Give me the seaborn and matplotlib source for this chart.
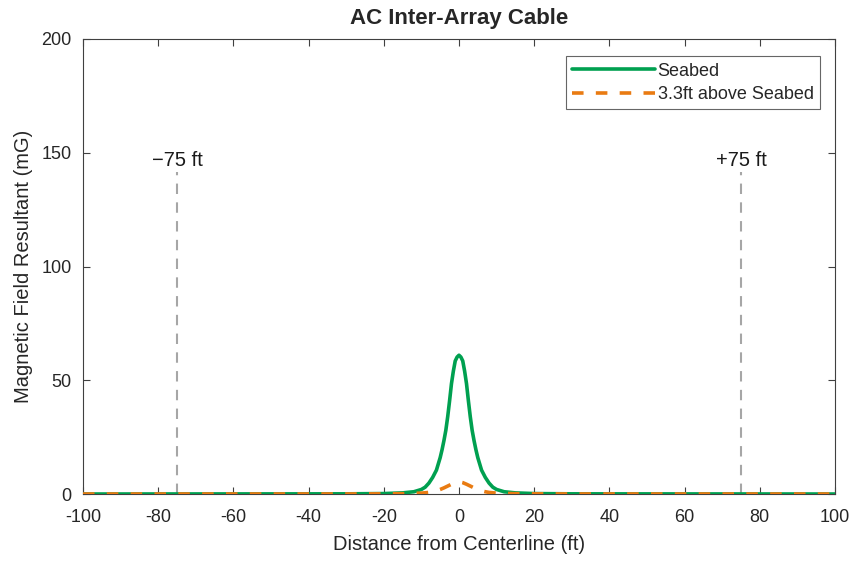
import pandas as pd
import matplotlib
matplotlib.use("Agg")
import matplotlib.pyplot as plt
import seaborn as sns

sns.set_style("white")
plt.rcParams['font.family'] = ['Liberation Sans', 'DejaVu Sans']
plt.rcParams['axes.unicode_minus'] = False

# distance from centerline (ft) and field values (mG)
distance = [-100, -30, -20, -15, -12, -10, -9, -8, -7, -6, -5, -4.5, -4, -3.5, -3, -2.5,
            -2, -1.5, -1, -0.5, 0, 0.5, 1, 1.5, 2, 2.5, 3, 3.5, 4, 4.5, 5, 6, 7, 8, 9,
            10, 12, 15, 20, 30, 100]
seabed = [0.0, 0.08, 0.2, 0.5, 1.0, 2.0, 3.0, 4.8, 7.3, 10.5, 16.0, 19.5, 23.5, 28.0, 34.0, 41.0,
          48.5, 54.0, 58.5, 60.2, 61.0, 60.2, 58.5, 54.0, 48.5, 41.0, 34.0, 28.0, 23.5, 19.5, 16.0,
          10.5, 7.3, 4.8, 3.0, 2.0, 1.0, 0.5, 0.2, 0.08, 0.0]
above_seabed = [0.0, 0.03, 0.08, 0.15, 0.3, 0.4, 0.55, 0.7, 1.0, 1.4, 2.0, 2.35, 2.7, 3.1, 3.5, 3.9,
                4.3, 4.65, 5.0, 5.2, 5.3, 5.2, 5.0, 4.65, 4.3, 3.9, 3.5, 3.1, 2.7, 2.35, 2.0,
                1.4, 1.0, 0.7, 0.55, 0.4, 0.3, 0.15, 0.08, 0.03, 0.0]
ref_lines = [-75, 75]
ref_labels = ["\u221275 ft", "+75 ft"]

df = pd.DataFrame({"x": distance, "Seabed": seabed, "3.3ft above Seabed": above_seabed})

fig = plt.figure(figsize=(8.58, 5.61), dpi=100)
ax = fig.add_axes([0.0967, 0.1194, 0.8765, 0.8111])

green = "#00A050"
orange = "#E97B12"

# reference lines at +/-75 ft
for xv, lab in zip(ref_lines, ref_labels):
    ax.plot([xv, xv], [0, 141.5], color="#A6A6A6", lw=1.5, dashes=(5, 4), zorder=1)
    ax.text(xv, 146.8, lab, ha="center", va="center", fontsize=14.5, color="#1a1a1a")

sns.lineplot(data=df, x="x", y="Seabed", ax=ax, color=green, lw=2.6,
             label="Seabed", zorder=3)
sns.lineplot(data=df, x="x", y="3.3ft above Seabed", ax=ax, color=orange, lw=2.6,
             label="3.3ft above Seabed", zorder=4)
ax.lines[-1].set_dashes((3.2, 3.4))

ax.set_xlim(-100, 100)
ax.set_ylim(0, 200)
ax.set_xticks(range(-100, 101, 20))
ax.set_yticks(range(0, 201, 50))
ax.tick_params(direction="in", length=5, width=0.8, colors="#404040",
               labelsize=13, labelcolor="#262626", top=True, right=True,
               bottom=True, left=True, pad=8)
ax.tick_params(axis="x", pad=11)
for s in ax.spines.values():
    s.set_color("#404040")
    s.set_linewidth(0.8)
    s.set_visible(True)

ax.set_xlabel("Distance from Centerline (ft)", fontsize=14.5, color="#262626", labelpad=6)
ax.set_ylabel("Magnetic Field Resultant (mG)", fontsize=14.5, color="#262626", labelpad=6)
ax.set_title("AC Inter-Array Cable", fontsize=16, fontweight="bold", pad=11)

leg = ax.legend(loc="upper right", bbox_to_anchor=(0.98, 0.962), fontsize=13,
                frameon=True, fancybox=False, handlelength=4.6, handletextpad=0.15,
                borderpad=0.35, labelspacing=0.35, borderaxespad=0)
leg.get_frame().set_edgecolor("#404040")
leg.get_frame().set_linewidth(0.8)
leg.get_lines()[-1].set_dashes((3.2, 3.4))

fig.savefig("out.png", dpi=100)
